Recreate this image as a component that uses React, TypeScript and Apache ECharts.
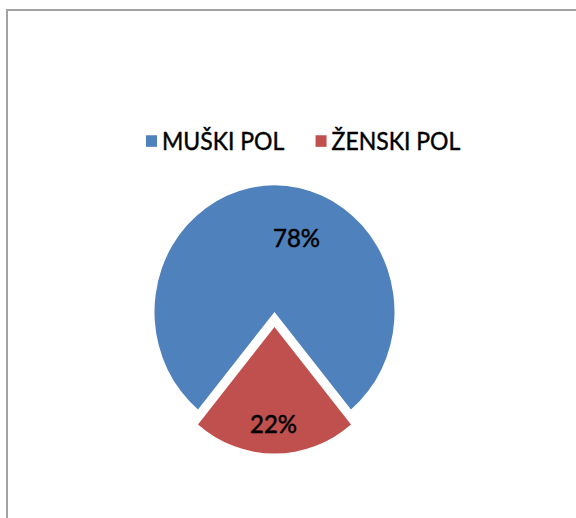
import React, { useEffect, useRef } from "react";
import * as echarts from "echarts";

const categories = ["MUŠKI POL", "ŽENSKI POL"];
const values = [78, 22];
const colors = ["#4F81BD", "#C0504D"];

const SY = 1.055;

export default function App() {
  const ref = useRef<HTMLDivElement>(null);
  useEffect(() => {
    if (!ref.current) return;
    const chart = echarts.init(ref.current, undefined, { renderer: "svg" });
    chart.setOption({
      animation: false,
      backgroundColor: "#ffffff",
      graphic: [
        {
          type: "rect",
          shape: { x: 7, y: 9.5, width: 700, height: 700 },
          style: { fill: "none", stroke: "#a3a3a3", lineWidth: 2 },
          silent: true,
        },
      ],
      legend: {
        left: 141,
        top: 117,
        icon: "rect",
        itemWidth: 11,
        itemHeight: 11,
        itemGap: 31,
        selectedMode: false,
        textStyle: {
          fontFamily: "Lato",
          fontSize: 23,
          color: "#000000",
          textBorderColor: "#000000",
          textBorderWidth: 0.4,
        },
        data: categories,
      },
      series: [
        {
          type: "pie",
          center: [274.5, 295.7],
          radius: 120,
          startAngle: 230.4,
          clockwise: true,
          selectedMode: "single",
          selectedOffset: 14.2,
          emphasis: { disabled: true },
          itemStyle: { borderWidth: 0 },
          label: {
            show: true,
            position: "inside",
            formatter: "{d}%",
            fontFamily: "Lato",
            fontSize: 24,
            color: "#000000",
            textBorderColor: "#000000",
            textBorderWidth: 0.5,
          },
          labelLine: { show: false },
          labelLayout: (p: any) =>
            p.dataIndex === 0 ? { dx: 22, dy: -8 } : { dx: -1, dy: 28 },
          data: categories.map((c, i) => ({
            name: c,
            value: values[i],
            selected: i === 1,
            itemStyle: { color: colors[i] },
          })),
        },
      ],
    });
    return () => chart.dispose();
  }, []);
  return (
    <div
      style={{
        position: "fixed",
        left: 0,
        top: 0,
        width: 576,
        height: 518,
        overflow: "hidden",
        background: "#ffffff",
      }}
    >
      <div
        ref={ref}
        style={{
          width: 576,
          height: Math.ceil(518 / SY) + 2,
          transform: `scaleY(${SY})`,
          transformOrigin: "0 0",
        }}
      />
    </div>
  );
}
